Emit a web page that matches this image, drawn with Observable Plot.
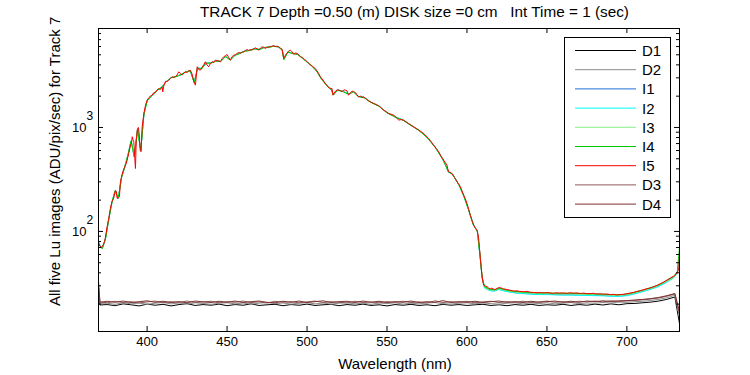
<!DOCTYPE html>
<html>
<head>
<meta charset="utf-8">
<script src="https://cdn.jsdelivr.net/npm/d3@7/dist/d3.min.js"></script>
<script src="https://cdn.jsdelivr.net/npm/@observablehq/plot@0.6/dist/plot.umd.min.js"></script>
<style>
  html, body { margin: 0; padding: 0; background: #ffffff; }
  #chart { width: 750px; height: 375px; }
</style>
</head>
<body>
<div id="chart"></div>
<script>
// ---------------- DATA ----------------
const titleText = "TRACK 7 Depth =0.50 (m) DISK size =0 cm   Int Time = 1 (sec)";
const xLabelText = "Wavelength (nm)";
const yLabelText = "All five Lu images (ADU/pix/sec) for Track 7";

const seriesNames = ["D1", "D2", "I1", "I2", "I3", "I4", "I5", "D3", "D4"];
const seriesColors = ["#000000", "#8c8c8c", "#1f6fd6", "#00ffff", "#88f088", "#00c800", "#ff0000", "#8c5a5a", "#7f3030"];

const xTicks = [400, 450, 500, 550, 600, 650, 700];
const yMajorTicks = [100, 1000];
const yMajorExp = ["2", "3"];
const yMinorTicks = [20, 30, 40, 50, 60, 70, 80, 90, 200, 300, 400, 500, 600, 700, 800, 900, 2000, 3000, 4000, 5000, 6000, 7000, 8000];

// I5 (red) detailed trace
const i5Wl = [369.6,370.5,371.5,372.5,373.5,374.3,375,376,377,378,379,380.2,380.8,381.3,382.7,383.3,383.8,384.8,386,387,388.5,389.6,390.2,390.7,391.2,391.7,392.3,392.7,393.2,394,394.6,395.2,395.7,396.2,396.9,398,399,400,401,402,403.1,404,405.2,406,407.3,408.4,409.4,409.8,410.4,411.5,412.5,413.5,414.5,415.6,416.6,417.7,418.7,419.8,420.8,421.9,423,424,425,426,427,428,429.2,430.2,431.3,432.3,433.3,434.4,435.4,436.4,437.4,438.5,439.5,440.6,441.6,442.7,443.7,444.8,445.9,446.9,447.9,449,450,451,452.1,453.1,454.2,455.2,456.2,457.3,458.3,459.4,460.4,461.5,462.5,463.5,464.6,465.6,466.7,467.7,468.8,469.8,470.9,471.9,473,474,475,476,477,478,479.2,480.2,481.3,482.3,483.3,484.4,485,485.4,486.5,487.5,488.5,489.6,490.6,491.7,492.7,493.8,494.8,495.9,497,498,499,500,501,502.1,503,504,505.2,506.2,507.3,508.3,509.3,510.3,511.4,512.4,513.5,514.5,515.6,516.2,517,518,519,519.8,521,521.9,523,524,525,526,527,528.2,529.2,530.2,531.3,532.3,533.4,534.4,535.4,536.5,537.5,538.6,540,541.7,543.2,544.8,546.4,547.9,549.5,551,552.6,554.2,555.7,557.3,558.8,560.4,562,563.5,565.1,566.7,568.2,569.8,571.4,572.9,574.4,576,577.6,579.1,580.7,582.3,583.8,585.4,586.4,587.5,588,588.5,589.5,590.6,592.2,593.8,594.8,595.9,596.9,597.9,599,600,601,602.1,603.1,604.2,605.2,606.3,606.8,607.3,607.8,608.4,608.9,609.4,609.9,610.4,611.5,612.6,613.6,614.6,615.6,616.7,617.7,618.8,619.8,620.9,622,623,624,625,627,629.2,631,633,635.4,637.5,639.6,641.7,643.8,646,648,650,652,654,656,658,660.4,662.5,664.6,666.7,668.8,671,673,675,677,679,681.2,683.3,685.4,687.5,689.5,691.6,693.7,695.8,697.9,700,702,704.1,706.2,708.3,710.4,712.5,714.6,716.6,718.7,720.8,722.9,725,727.1,729.1,730.2,731.3,732.4,732.9];
const i5 = [80,72,70,74,80,95,111,133,166,193,207,249,240,207,216,300,324,375,419,451,562,676,700,814,760,728,500,403,750,978,1000,814,600,584,1016,1365,1638,1829,1931,2000,2044,2150,2172,2280,2372,2320,2460,2200,2500,2785,2760,2850,2950,3070,3020,3070,3200,3433,3300,3185,3350,3433,3380,3500,3557,3300,2754,2553,3836,3600,3557,3800,4000,4285,4000,3836,4100,4285,4200,4438,4400,4350,4285,4600,4785,4900,5036,4700,4438,4800,4955,5000,5150,5260,5200,5300,5344,5500,5623,5500,5600,5540,5700,5839,5700,5540,5800,5970,5900,5754,5900,5970,6000,6050,6110,6000,6050,5970,5800,5665,5000,4600,4955,5200,5420,5540,5344,5036,5200,5146,5000,4785,4700,4600,4438,4300,4150,3975,3950,3800,3690,3500,3300,3070,2950,2800,2650,2550,2410,2380,2372,2044,2150,2250,2300,2285,2250,2204,2300,2285,2250,2044,2150,2235,2200,2172,2050,1973,2000,1960,1973,1900,1850,1790,1750,1700,1660,1617,1540,1467,1420,1365,1340,1313,1250,1176,1190,1176,1130,1093,1050,1016,980,942,910,876,830,783,730,676,630,584,530,485,460,434,400,375,370,361,330,301,285,269,245,223,205,186,165,143,128,115,108,103,95,86,70,55,45,38,33,30.5,29.8,29.4,28.5,28.1,28.5,27.8,27.6,28.3,28.8,28.8,28.3,28,27.8,27.6,27.2,26.7,26.9,26.5,26.3,26.5,26,25.9,25.7,25.9,25.6,25.8,25.6,25.4,25.7,25.5,25.6,25.4,25.7,25.5,25.6,25.3,25.5,25.2,25.2,25.4,25,25.1,24.9,25,24.7,24.8,24.5,24.7,24.8,25.2,25.5,25.9,26.5,26.9,27.5,28.1,28.6,29.3,30.2,31.3,32.4,34,35.6,37,37.7,40.6,42,58];

// I1..I4 traces (coarser readings)
const iWl = [370,372,374,376,378,380,382,384,386,388,390,392,394,396,398,400,403,406,409,412,415,418,421,424,427,429.5,431.5,434,437,440,443,446,449,452,455,458,461,464,467,470,473,476,479,482,484.5,485.5,488,491,494,497,500,503,506,509,512,515,516.5,519,522,526,529,532,536,540,545,550,555,560,565,570,575,580,585,588.5,591,595,598,601,604,606.5,608,609.5,611,614,617,620,623,626,630,635,640,645,650,655,660,665,670,675,680,685,690,695,700,705,710,715,720,725,729,731.5,732.9];
const i4 = [74,68,86,130,190,245,208,330,415,540,740,520,960,600,1340,1800,2020,2250,2420,2760,3000,3080,3200,3400,3500,2700,3700,3650,4150,4150,4350,4300,4800,4450,4950,5150,5400,5500,5700,5600,5850,5900,6030,5950,5550,4500,5300,5150,5050,4650,4250,3900,3480,2920,2560,2330,2050,2280,2230,2080,2200,1980,1920,1740,1600,1380,1260,1175,1045,935,800,650,490,372,355,280,220,162,116,100,62,36,29.5,27.8,27.5,28.4,27.7,27,26.5,26.1,25.8,25.6,25.6,25.4,25.4,25.4,25.3,25.1,25.1,24.9,24.7,24.6,25,26,27.3,28.8,30.7,33.8,36.5,41,70];
const i3 = [75,69,85,131,191,246,209,331,416,542,742,522,962,602,1345,1805,2025,2255,2425,2765,3010,3090,3210,3410,3510,2710,3720,3670,4170,4170,4370,4310,4820,4460,4960,5160,5410,5510,5710,5620,5860,5910,6040,5960,5560,4520,5310,5160,5060,4660,4260,3910,3490,2930,2570,2340,2060,2290,2240,2090,2210,1990,1930,1745,1605,1385,1265,1178,1048,938,802,652,490,372,355,280,220,162,116,100,62,36,29,27.4,27.1,28,27.3,26.6,26.1,25.7,25.4,25.2,25.2,25,25,25,24.9,24.7,24.7,24.5,24.3,24.2,24.6,25.6,26.9,28.3,30.2,33.2,36,40,62];
const i2 = [76,70,86,132,192,245,210,330,418,545,745,520,965,600,1350,1810,2030,2260,2430,2770,3020,3100,3220,3420,3520,2720,3740,3700,4200,4200,4400,4330,4850,4480,4970,5180,5430,5530,5730,5650,5880,5930,6060,5980,5580,4550,5330,5180,5080,4680,4280,3920,3500,2940,2580,2350,2070,2300,2250,2100,2220,2000,1940,1750,1610,1390,1270,1180,1050,940,805,655,490,372,355,280,220,162,116,100,62,36,28.5,27,26.6,27.6,26.8,26.2,25.6,25.2,24.9,24.7,24.7,24.5,24.4,24.4,24.3,24.2,24.1,24,23.8,23.7,24.1,25.1,26.4,27.8,29.6,32.6,35.5,39.5,55];
const i1 = [75,69,86,131,191,245,209,330,417,543,743,521,963,601,1347,1807,2027,2257,2427,2767,3015,3095,3215,3415,3515,2715,3730,3685,4185,4185,4385,4320,4835,4470,4965,5170,5420,5520,5720,5635,5870,5920,6050,5970,5570,4535,5320,5170,5070,4670,4270,3915,3495,2935,2575,2345,2065,2295,2245,2095,2215,1995,1935,1748,1608,1388,1268,1179,1049,939,804,654,490,372,355,280,220,162,116,100,62,36,28.8,27.2,26.8,27.8,27,26.4,25.8,25.4,25.1,24.9,24.9,24.7,24.6,24.6,24.5,24.4,24.3,24.2,24,23.9,24.3,25.3,26.6,28,29.9,32.9,35.8,39.8,50];

// Dark traces D1..D4
const dWl = [369.6,370.5,375,380,385,390,395,400,405,410,415,420,425,430,435,440,445,450,455,460,465,470,475,480,485,490,495,500,505,510,515,520,525,530,535,540,545,550,555,560,565,570,575,580,585,590,595,600,605,610,615,620,625,630,635,640,645,650,655,660,665,670,675,680,685,690,695,700,705,710,715,720,725,730,732.9];
const d1 = [24,19.6,19.8,19.3,20.1,19.7,19.2,20.0,19.5,19.9,19.2,19.8,20.2,19.4,19.8,19.5,20.0,19.3,19.8,19.5,20.1,19.4,19.7,19.9,19.3,19.8,19.5,20.0,19.4,19.7,19.9,19.3,19.8,19.5,20.0,19.4,19.7,19.2,19.8,19.5,19.9,19.4,19.7,19.3,19.9,19.5,19.8,19.4,19.7,19.9,19.4,19.7,19.3,19.8,19.5,19.9,19.4,19.7,19.5,19.9,19.4,19.8,19.5,20.0,19.6,20.1,19.7,20.2,20.3,20.6,20.9,21.4,22.2,23.4,13];
const d2 = [26,20.3,20.4,19.9,20.6,20.1,20.5,19.9,20.4,20.7,20.1,20.5,20.0,20.6,20.3,19.9,20.4,20.6,20.1,20.5,20.0,20.4,20.7,20.2,20.5,20.0,20.4,20.6,20.1,20.5,20.0,20.4,20.6,20.1,20.4,19.9,20.5,20.2,20.6,20.0,20.4,20.1,20.5,20.7,20.2,20.0,20.4,20.6,20.1,20.5,20.2,20.0,20.4,20.6,20.1,20.5,20.2,20.6,20.1,20.4,20.7,20.2,20.5,20.4,20.7,20.5,20.9,20.8,21.1,21.3,21.7,22.2,23.0,24.3,15];
const d3 = [30,21.0,20.6,21.3,20.7,21.1,20.5,21.0,21.4,20.6,21.1,20.8,21.4,20.7,21.0,21.3,20.6,21.1,20.8,21.4,20.7,21.0,20.5,21.3,20.8,21.1,20.6,21.0,21.4,20.7,21.1,20.8,20.5,21.3,20.7,21.0,20.6,21.1,20.8,21.3,20.7,21.0,20.5,21.5,20.7,21.1,20.8,21.3,20.6,21.0,21.3,20.7,21.1,20.8,21.3,20.7,21.0,21.4,20.8,21.1,20.7,21.3,21.0,21.4,21.0,21.5,21.2,21.5,21.7,22.0,22.4,22.9,23.8,25.0,16];
const d4 = [33,20.8,21.3,20.8,21.4,20.7,21.1,21.5,20.8,21.3,20.7,21.1,20.6,21.4,21.0,20.7,21.3,20.8,21.4,20.7,21.1,21.4,20.8,20.6,21.3,20.8,21.4,20.7,21.1,21.5,20.7,21.1,21.3,20.7,21.4,20.8,21.3,20.7,21.1,20.8,21.4,20.7,21.1,20.8,21.6,20.7,21.1,20.8,21.3,20.7,21.1,21.4,20.8,21.1,20.7,21.3,20.8,21.1,21.4,20.8,21.3,20.8,21.4,21.1,21.5,21.2,21.5,21.6,21.9,22.2,22.6,23.2,24.1,25.3,17];

const xDomain = [369.6, 732.9];
const yDomain = [10.9, 8950];

// ---------------- BUILD ----------------
const seriesDefs = [
  {name: "D1", wl: dWl, v: d1},
  {name: "D2", wl: dWl, v: d2},
  {name: "I1", wl: iWl, v: i1},
  {name: "I2", wl: iWl, v: i2},
  {name: "I3", wl: iWl, v: i3},
  {name: "I4", wl: iWl, v: i4},
  {name: "I5", wl: i5Wl, v: i5},
  {name: "D3", wl: dWl, v: d3},
  {name: "D4", wl: dWl, v: d4}
];
const rows = seriesDefs.flatMap(s => s.wl.map((w, i) => ({name: s.name, wl: w, v: s.v[i]})));

const W = 750, H = 375;
const mL = 98, mR = 71, mT = 28, mB = 44;
const fW = W - mL - mR, fH = H - mT - mB;
const font = "'Liberation Sans', Arial, Helvetica, sans-serif";

const chart = Plot.plot({
  width: W, height: H,
  marginLeft: mL, marginRight: mR, marginTop: mT, marginBottom: mB,
  style: {fontFamily: font, background: "#ffffff", color: "#000"},
  x: {domain: xDomain, axis: null},
  y: {type: "log", domain: yDomain, axis: null},
  color: {domain: seriesNames, range: seriesColors},
  marks: [
    Plot.line(rows, {x: "wl", y: "v", z: "name", stroke: "name", strokeWidth: 1, clip: true}),
    Plot.tickX(xTicks, {x: d => d, insetTop: fH - 5, stroke: "#000"}),
    Plot.tickX(xTicks, {x: d => d, insetBottom: fH - 5, stroke: "#000"}),
    Plot.tickY(yMajorTicks, {y: d => d, insetRight: fW - 5, stroke: "#000"}),
    Plot.tickY(yMajorTicks, {y: d => d, insetLeft: fW - 5, stroke: "#000"}),
    Plot.tickY(yMinorTicks, {y: d => d, insetRight: fW - 3, stroke: "#000"}),
    Plot.tickY(yMinorTicks, {y: d => d, insetLeft: fW - 3, stroke: "#000"}),
    Plot.frame({stroke: "#000", strokeWidth: 1}),
    Plot.text(xTicks, {x: d => d, frameAnchor: "bottom", dy: 14, text: d => String(d), fontSize: 13, fill: "#000"}),
    Plot.text(yMajorTicks, {y: d => d, frameAnchor: "left", dx: -12, textAnchor: "end", text: () => "10", fontSize: 13, fill: "#000"}),
    Plot.text(yMajorTicks, {y: d => d, frameAnchor: "left", dx: -12, dy: -11, textAnchor: "start", text: (d, i) => yMajorExp[i], fontSize: 12, fill: "#000"})
  ]
});

const NS = "http://www.w3.org/2000/svg";
function addEl(parent, tag, attrs, text) {
  const el = document.createElementNS(NS, tag);
  for (const k in attrs) el.setAttribute(k, attrs[k]);
  if (text != null) el.textContent = text;
  parent.appendChild(el);
  return el;
}
const svgRoot = chart.tagName.toLowerCase() === "svg" ? chart : chart.querySelector("svg");

addEl(svgRoot, "text", {x: 200, y: 17, "text-anchor": "start", "font-family": font, "font-size": 15.3, fill: "#000", style: "white-space:pre"}, titleText);
addEl(svgRoot, "text", {x: 395, y: 369, "text-anchor": "middle", "font-family": font, "font-size": 15, fill: "#000"}, xLabelText);
addEl(svgRoot, "text", {transform: "translate(60,306) rotate(-90)", "text-anchor": "start", "font-family": font, "font-size": 15, fill: "#000"}, yLabelText);

const lg = addEl(svgRoot, "g", {});
addEl(lg, "rect", {x: 564.5, y: 37.5, width: 106, height: 180, fill: "#fff", stroke: "#000"});
seriesNames.forEach((n, i) => {
  const yy = 50.5 + i * 19.2;
  addEl(lg, "line", {x1: 575, x2: 636, y1: yy, y2: yy, stroke: seriesColors[i], "stroke-width": 1});
  addEl(lg, "text", {x: 642, y: yy, dy: "0.36em", "text-anchor": "start", "font-family": font, "font-size": 15, fill: "#000"}, n);
});

document.getElementById("chart").appendChild(chart);
</script>
</body>
</html>
